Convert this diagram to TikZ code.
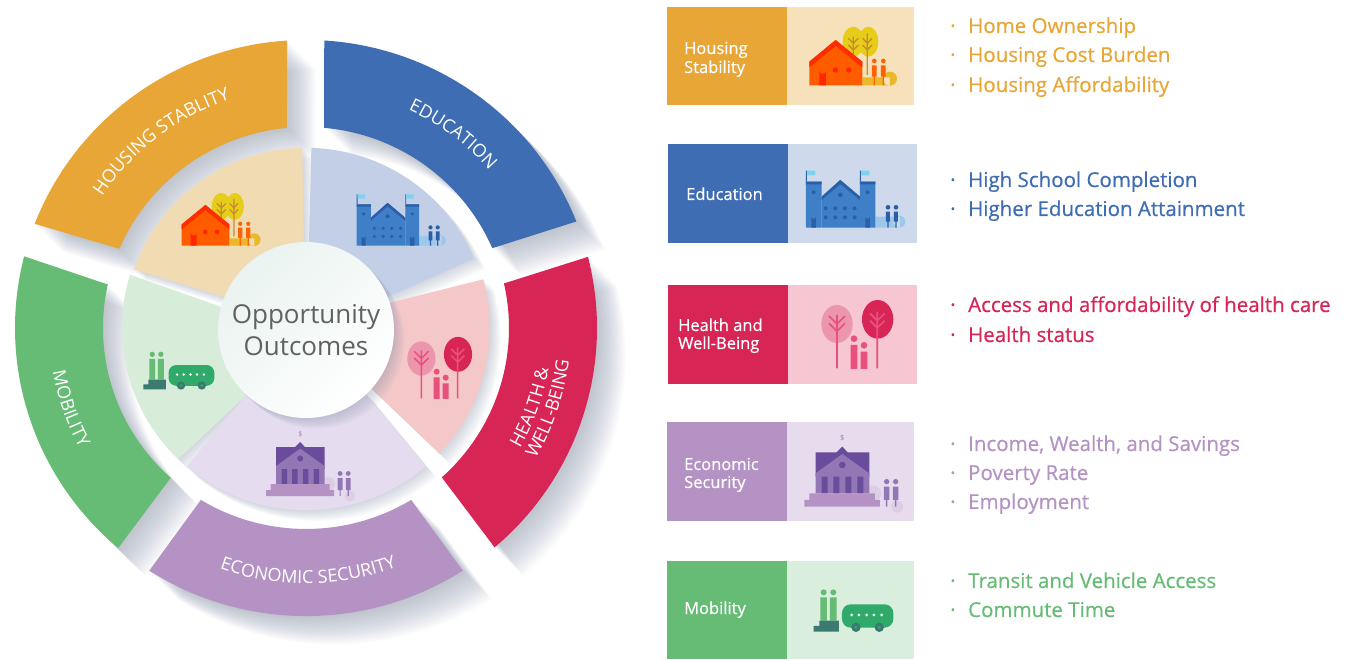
\documentclass[tikz,border=0pt]{standalone}
\usepackage{fontspec}
\setmainfont{Open Sans}
\newfontfamily\medf[FakeBold=0.5]{Open Sans}
\usetikzlibrary{decorations.text}
\definecolor{cOr}{HTML}{E7A636}\definecolor{cOrT}{HTML}{F6E1BB}\definecolor{cOrW}{HTML}{F1DBB3}
\definecolor{cBl}{HTML}{3F6DB3}\definecolor{cBlT}{HTML}{CEDAEC}\definecolor{cBlW}{HTML}{C3CEE7}
\definecolor{cRe}{HTML}{D72555}\definecolor{cReT}{HTML}{F6C6D3}\definecolor{cReW}{HTML}{F4C8C8}
\definecolor{cPu}{HTML}{B592C4}\definecolor{cPuT}{HTML}{E7DCEE}\definecolor{cPuW}{HTML}{E5DCEF}
\definecolor{cGr}{HTML}{66BC75}\definecolor{cGrT}{HTML}{D9EEDC}\definecolor{cGrW}{HTML}{D8ECDA}
\definecolor{cSh}{HTML}{7F8DA6}
\tikzset{
  lbl/.style={anchor=base west,inner sep=0pt,text=white,font=\fontsize{16.5}{19}\selectfont\medf,align=left},
  item/.style={anchor=base west,inner sep=0pt,font=\fontsize{20.5}{24}\selectfont\medf},
}
% ring segment: outer a1->a2 at radius R, inner a3<-a4 at radius r
\newcommand\segp[6]{(#1:#5) arc[start angle=#1,end angle=#2,radius=#5] -- (#4:#6) arc[start angle=#4,end angle=#3,radius=#6] -- cycle}
\newcommand\pOr{\segp{93.7}{158.8}{95.4}{156.8}{291}{203}}
\newcommand\pBl{\segp{86.4}{21.7}{84.9}{23.4}{291}{203}}
\newcommand\pRe{\segp{14.3}{-49.6}{12.8}{-48}{291}{203}}
\newcommand\pPu{\segp{-57.4}{-122.6}{-58.8}{-121.2}{291}{203}}
\newcommand\pGr{\segp{165.6}{229.8}{167.5}{228.2}{291}{203}}
\newcommand\wOr{\segp{91.2}{161}{91.5}{159}{182}{85}}
\newcommand\wBl{\segp{88.3}{22.7}{88}{21}{182}{85}}
\newcommand\wRe{\segp{15.5}{-43.5}{17}{-43}{184}{85}}
\newcommand\wPu{\segp{-49.5}{-130.5}{-48}{-131.5}{184}{85}}
\newcommand\wGr{\segp{163}{226}{166}{229}{184}{85}}
\newcommand\castshadow[3]{\foreach \i in {1,...,#2}{\fill[cSh,opacity=#3,shift={(\i*1.2,-\i*1.2)}] #1;}}
\newcommand\iconat[4]{\begin{scope}[shift={(#1,659-#2)},x=#3pt,y=-#3pt]\def\iconS{#3}#4\end{scope}}
\newcommand\iconHouse{
  \fill[yellow!80!orange!90!black] (580,125) ellipse[x radius=32,y radius=45] (625,125) ellipse[x radius=30,y radius=45];
  \fill[cOr!80!yellow] (607,232) rectangle (690,256) (690,236) circle[radius=21];
  \draw[line width={\iconS*4pt},cOr!85!black] (580,110)--(580,190) (622,100)--(622,225)
    (565,115)--(580,130)--(595,115) (565,135)--(580,150)--(595,135) (608,115)--(622,130)--(636,115) (608,135)--(622,150)--(636,135);
  \fill[orange!65!red!95!yellow] (448,185)--(527,120)--(607,185)--(607,256)--(448,256)--cycle;
  \fill[red!65!orange] (448,185)--(527,120)--(607,185)--(607,202)--(527,138)--(448,202)--cycle;
  \fill[red!70!orange] (478,256)--(478,212) arc[start angle=180,end angle=0,radius=10] -- (498,256)--cycle (526,210) circle[radius=8] (566,210) circle[radius=8];
  \fill[orange!75!red] (643,183) circle[radius=7] (670,183) circle[radius=7];
  \fill[orange!75!red] (636,196) rectangle (650,230) (663,196) rectangle (677,230) (641,230) rectangle (645,256) (668,230) rectangle (672,256);
}
\newcommand\iconSchool{
  \definecolor{sB}{HTML}{3F7FC8}\definecolor{sD}{HTML}{2A5EA8}\definecolor{sL}{HTML}{9CC8EA}
  \fill[sL] (646,650) rectangle (720,683) (718,665) circle[radius=18];
  \fill[sD] (438,545) rectangle (441,512) (600,545) rectangle (603,512);
  \fill[sL!80!cyan] (441,512) rectangle (466,526) (603,512) rectangle (628,526);
  \fill[sB] (438,545) rectangle (485,683) (600,545) rectangle (646,683);
  \fill[sB] (485,590)--(541,540)--(600,590)--(600,683)--(485,683)--cycle;
  \fill[sD] (438,545) rectangle (485,553) (600,545) rectangle (646,553) (485,590)--(541,540)--(600,590)--(600,600)--(541,552)--(485,600)--cycle;
  \fill[sD] (461,577) circle[radius=6] (623,577) circle[radius=6] (541,585) circle[radius=7]
    (497,625) circle[radius=6] (526,625) circle[radius=6] (555,625) circle[radius=6] (584,625) circle[radius=6]
    (497,652) circle[radius=6] (526,652) circle[radius=6] (555,652) circle[radius=6] (584,652) circle[radius=6];
  \fill[sD] (454,683)--(454,650) arc[start angle=180,end angle=0,radius=7]--(468,683)--cycle (616,683)--(616,650) arc[start angle=180,end angle=0,radius=7]--(630,683)--cycle;
  \fill[sD] (684,622) circle[radius=7] (708,622) circle[radius=7] (678,635) rectangle (690,665) (702,635) rectangle (714,665) (682,665) rectangle (686,683) (706,665) rectangle (710,683);
}
\newcommand\iconTrees{
  \definecolor{tM}{HTML}{E9507C}
  \fill[cRe!48!white] (531,132) ellipse[x radius=47,y radius=57];
  \fill[cRe] (653,118) ellipse[x radius=47,y radius=58];
  \draw[line width={\iconS*5pt},tM] (531,105)--(531,265) (507,108)--(531,132)--(555,108) (507,130)--(531,154)--(555,130)
     (652,95)--(652,265) (630,100)--(652,122)--(674,100) (630,122)--(652,144)--(674,122);
  \fill[tM] (582,176) circle[radius=10] (612,196) circle[radius=10] (572,195) rectangle (592,267) (602,215) rectangle (622,267);
}
\newcommand\iconBank{
  \definecolor{bD}{HTML}{6A4C9C}\definecolor{bM}{HTML}{9377B5}
  \pgfmathsetmacro\dollarsize{\iconS*22}
  \fill[cPu!45!white] (640,640) circle[radius=24] (712,680) circle[radius=18];
  \node[font=\fontsize{\dollarsize}{\dollarsize}\selectfont,text=bM,inner sep=0pt] at (547,473) {\$};
  \fill[bD] (467,517)--(530,517)--(547,500)--(563,517)--(628,517)--(628,590)--(467,590)--cycle;
  \fill[bM] (467,580)--(547,522)--(628,580)--(628,640)--(467,640)--cycle;
  \fill[bD] (547,555) circle[radius=10] (485,590) rectangle (503,640) (520,590) rectangle (538,640) (556,590) rectangle (574,640) (592,590) rectangle (610,640);
  \fill[cPu] (448,640)--(645,640)--(645,660)--(660,660)--(660,680)--(433,680)--(433,660)--(448,660)--cycle;
  \fill[bM] (680,605) circle[radius=8] (707,605) circle[radius=8] (672,620) rectangle (688,660) (699,620) rectangle (715,660) (678,660) rectangle (682,680) (705,660) rectangle (709,680);
}
\newcommand\iconBus{
  \definecolor{mD}{HTML}{3B7A70}\definecolor{mB}{HTML}{2FAA6A}
  \fill[cGr] (491,127) circle[radius=9] (520,127) circle[radius=9] (481,142) rectangle (501,212) (510,142) rectangle (530,212);
  \fill[mD] (478,212)--(537,212)--(537,245)--(461,245)--(461,228)--(478,228)--cycle;
  \fill[mB,rounded corners={\iconS*26pt}] (546,163) rectangle (700,233);
  \fill[white] (575,195) circle[radius=4.5] (597,195) circle[radius=4.5] (620,195) circle[radius=4.5] (642,195) circle[radius=4.5] (665,195) circle[radius=4.5];
  \fill[mD] (588,232) circle[radius=14] (658,232) circle[radius=14];
  \fill[mB] (588,232) circle[radius=5] (658,232) circle[radius=5];
}
\begin{document}
\begin{tikzpicture}[x=1pt,y=1pt]
\useasboundingbox (0,0) rectangle (1366,659);
\fill[white] (0,0) rectangle (1366,659);
\begin{scope}[shift={(306,331)},yscale=0.99]
  \castshadow{\pOr}{24}{.022}\castshadow{\pBl}{24}{.022}\castshadow{\pRe}{24}{.022}\castshadow{\pPu}{24}{.022}\castshadow{\pGr}{24}{.022}
  \castshadow{\wOr}{9}{.04}\castshadow{\wBl}{9}{.04}\castshadow{\wRe}{9}{.04}\castshadow{\wPu}{9}{.04}\castshadow{\wGr}{9}{.04}
  \fill[cOr] \pOr; \fill[cBl] \pBl; \fill[cRe] \pRe; \fill[cPu] \pPu; \fill[cGr] \pGr;
  \fill[cOrW] \wOr; \fill[cBlW] \wBl; \fill[cReW] \wRe; \fill[cPuW] \wPu; \fill[cGrW] \wGr;
  \newcommand\wf{\fontsize{18}{20}\selectfont\color{white}}
  \path[decorate,decoration={text along path,text align=center,text={|\wf|HOUSING STABLITY}}] (157.6:243) arc[start angle=157.6,end angle=97.6,radius=243];
  \path[decorate,decoration={text along path,text align=center,text={|\wf|EDUCATION}}] (83:243) arc[start angle=83,end angle=23,radius=243];
  \path[decorate,decoration={text along path,text align=center,text={|\wf|HEALTH {\&}}}] (-49.5:246) arc[start angle=-49.5,end angle=10.5,radius=246];
  \path[decorate,decoration={text along path,text align=center,text={|\wf|WELL-BEING}}] (-48.5:265) arc[start angle=-48.5,end angle=11.5,radius=265];
  \path[decorate,decoration={text along path,text align=center,text={|\wf|ECONOMIC SECURITY}}] (-129.5:258) arc[start angle=-129.5,end angle=-49.5,radius=258];
  \path[decorate,decoration={text along path,text align=center,text={|\wf|MOBILITY}}] (169:257) arc[start angle=169,end angle=229,radius=257];
\end{scope}
\foreach \i in {1,...,12}{\fill[cSh,opacity=.03] (306+\i*.9,329-\i*.9) circle[radius=88];}
\node[circle,minimum size=176pt,inner sep=0pt,top color=cBlT!35!cGrT!50!white,bottom color=white,shading angle=45,align=center,text=black!62,font=\fontsize{26}{33}\selectfont] (disc) at (306,329) {Opportunity\\[-1pt]Outcomes};
\iconat{47.3}{168.9}{.3}{\iconHouse}
\iconat{225.3}{40.8}{.3}{\iconSchool}
\iconat{262.1}{318.9}{.3}{\iconTrees}
\iconat{136.1}{292}{.3}{\iconBank}
\iconat{6.4}{316.6}{.297}{\iconBus}
% table
\fill[cOr] (667,554) rectangle (787,652); \fill[cOrT] (787,554) rectangle (914,652);
\fill[cBl] (668,416) rectangle (788,515); \fill[cBlT] (788,416) rectangle (917,515);
\fill[cRe] (668,275) rectangle (788,374); \fill[cReT] (788,275) rectangle (917,374);
\fill[cPu] (667,138) rectangle (787,237); \fill[cPuT] (787,138) rectangle (914,237);
\fill[cGr] (667,0) rectangle (787,98); \fill[cGrT] (787,0) rectangle (914,98);
\iconat{660}{0}{.3333}{\iconHouse}
\iconat{660}{0}{.3333}{\iconSchool}
\iconat{660}{280}{.3333}{\iconTrees}
\iconat{660}{280}{.3333}{\iconBank}
\iconat{660}{550}{.3333}{\iconBus}
\node[lbl] (l1a) at (684,659-54) {Housing};
\node[lbl] (l1b) at (684,659-73) {Stability};
\node[lbl] (l2a) at (686,659-200) {Education};
\node[lbl] (l3a) at (678,659-331) {Health and};
\node[lbl] (l3b) at (678,659-349) {Well-Being};
\node[lbl] (l4a) at (684,659-470) {Economic};
\node[lbl] (l4b) at (684,659-488) {Security};
\node[lbl] (l5a) at (684,659-614) {Mobility};
\newcommand\itm[4]{\node[item,text=#2] (#1) at (950,659-#3) {\makebox[18pt][l]{·}#4};}
\itm{a1}{cOr}{33}{Home Ownership}
\itm{a2}{cOr}{62}{Housing Cost Burden}
\itm{a3}{cOr}{92}{Housing Affordability}
\itm{b1}{cBl}{187}{High School Completion}
\itm{b2}{cBl}{216}{Higher Education Attainment}
\itm{c1}{cRe}{312}{Access and affordability of health care}
\itm{c2}{cRe}{342}{Health status}
\itm{d1}{cPu}{451}{Income, Wealth, and Savings}
\itm{d2}{cPu}{480}{Poverty Rate}
\itm{d3}{cPu}{509}{Employment}
\itm{e1}{cGr}{588}{Transit and Vehicle Access}
\itm{e2}{cGr}{617}{Commute Time}
\end{tikzpicture}
\end{document}
